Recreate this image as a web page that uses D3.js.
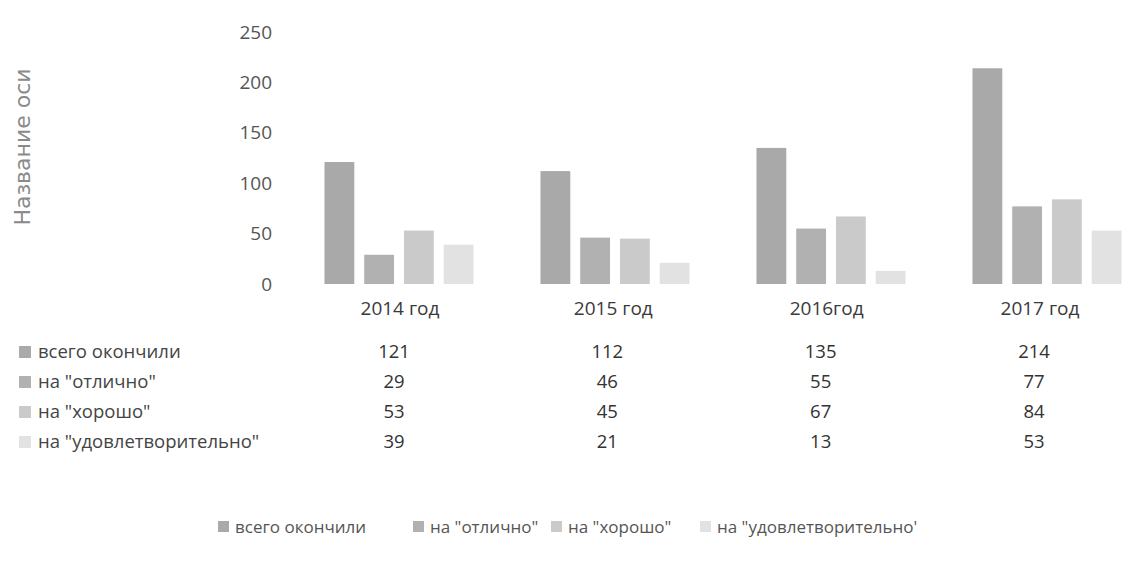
<!DOCTYPE html>
<html>
<head>
<meta charset="utf-8">
<script src="https://cdn.jsdelivr.net/npm/d3@7"></script>
<style>
  body { margin: 0; background: #fff; }
  svg { display: block; }
</style>
</head>
<body>
<div id="chart"></div>
<script>
// data
var years = ["2014 год", "2015 год", "2016год", "2017 год"];
var seriesNames = ["всего окончили", "на \"отлично\"", "на \"хорошо\"", "на \"удовлетворительно\""];
var totalVals = [121, 112, 135, 214];
var excellentVals = [29, 46, 55, 77];
var goodVals = [53, 45, 67, 84];
var satisfVals = [39, 21, 13, 53];
var yTicks = [0, 50, 100, 150, 200, 250];

var seriesVals = [totalVals, excellentVals, goodVals, satisfVals];
var colors = ["#a9a9a9", "#b1b1b1", "#cacaca", "#e2e2e2"];
var legendNames = ["всего окончили", "на \"отлично\"", "на \"хорошо\"", "на \"удовлетворительно'"];

var w = 1122, h = 564;
var font = "'Open Sans', 'Noto Sans', sans-serif";

var svg = d3.select("#chart").append("svg")
    .attr("width", w)
    .attr("height", h);

// scales
var x = d3.scaleBand()
    .domain(years)
    .range([291, 1155])
    .paddingInner(0.31)
    .paddingOuter(0.155);

var xSub = d3.scaleBand()
    .domain(d3.range(seriesNames.length))
    .range([0, x.bandwidth()])
    .paddingInner(0.25);

var xText = d3.scalePoint()
    .domain(years)
    .range([394, 1034]);

var y = d3.scaleLinear()
    .domain([0, 250])
    .range([284, 32]);

// y axis
var yAxis = svg.append("g")
    .attr("transform", "translate(272,0)")
    .call(d3.axisLeft(y).tickValues(yTicks).tickSize(0).tickPadding(0));
yAxis.select(".domain").remove();
yAxis.selectAll("text")
    .attr("font-family", font)
    .attr("font-size", "19px")
    .attr("fill", "#555");

// axis title
svg.append("text")
    .attr("transform", "translate(30,147) rotate(-90)")
    .attr("text-anchor", "middle")
    .attr("font-family", "'DejaVu Sans', sans-serif")
    .attr("font-size", "22px")
    .attr("fill", "#8a8a8a")
    .text("Название оси");

// bars
var groups = svg.selectAll(".grp")
    .data(years)
    .enter().append("g")
    .attr("class", "grp")
    .attr("transform", function(d) { return "translate(" + x(d) + ",0)"; });

groups.selectAll("rect")
    .data(function(d, i) {
        return seriesVals.map(function(s, k) { return { k: k, v: s[i] }; });
    })
    .enter().append("rect")
    .attr("x", function(d) { return xSub(d.k); })
    .attr("y", function(d) { return y(d.v); })
    .attr("width", xSub.bandwidth())
    .attr("height", function(d) { return y(0) - y(d.v); })
    .attr("fill", function(d) { return colors[d.k]; });

// category labels
svg.selectAll(".cat")
    .data(years)
    .enter().append("text")
    .attr("class", "cat")
    .attr("x", function(d) { return xText(d) + 6; })
    .attr("y", 315)
    .attr("text-anchor", "middle")
    .attr("font-family", font)
    .attr("font-size", "19px")
    .attr("fill", "#3a3a3a")
    .text(function(d) { return d; });

// data table
var rowY = d3.scalePoint()
    .domain(d3.range(seriesNames.length))
    .range([352, 442]);

var rows = svg.selectAll(".row")
    .data(seriesNames)
    .enter().append("g")
    .attr("class", "row")
    .attr("transform", function(d, i) { return "translate(0," + rowY(i) + ")"; });

rows.append("rect")
    .attr("x", 19)
    .attr("y", -6)
    .attr("width", 12)
    .attr("height", 12)
    .attr("fill", function(d, i) { return colors[i]; });

rows.append("text")
    .attr("x", 38)
    .attr("dy", "0.35em")
    .attr("font-family", font)
    .attr("font-size", "18.5px")
    .attr("fill", "#444")
    .text(function(d) { return d; });

rows.selectAll(".val")
    .data(function(d, i) { return seriesVals[i]; })
    .enter().append("text")
    .attr("class", "val")
    .attr("x", function(d, j) { return xText(years[j]); })
    .attr("dy", "0.35em")
    .attr("text-anchor", "middle")
    .attr("font-family", font)
    .attr("font-size", "18.5px")
    .attr("fill", "#333")
    .text(function(d) { return d; });

// legend
var legendX = [218, 413, 551, 700];
var legend = svg.selectAll(".leg")
    .data(legendNames)
    .enter().append("g")
    .attr("class", "leg")
    .attr("transform", function(d, i) { return "translate(" + legendX[i] + ",527)"; });

legend.append("rect")
    .attr("x", 0)
    .attr("y", -6)
    .attr("width", 11)
    .attr("height", 11)
    .attr("fill", function(d, i) { return colors[i]; });

legend.append("text")
    .attr("x", 17)
    .attr("dy", "0.35em")
    .attr("font-family", font)
    .attr("font-size", "17px")
    .attr("fill", "#555")
    .text(function(d) { return d; });
</script>
</body>
</html>
